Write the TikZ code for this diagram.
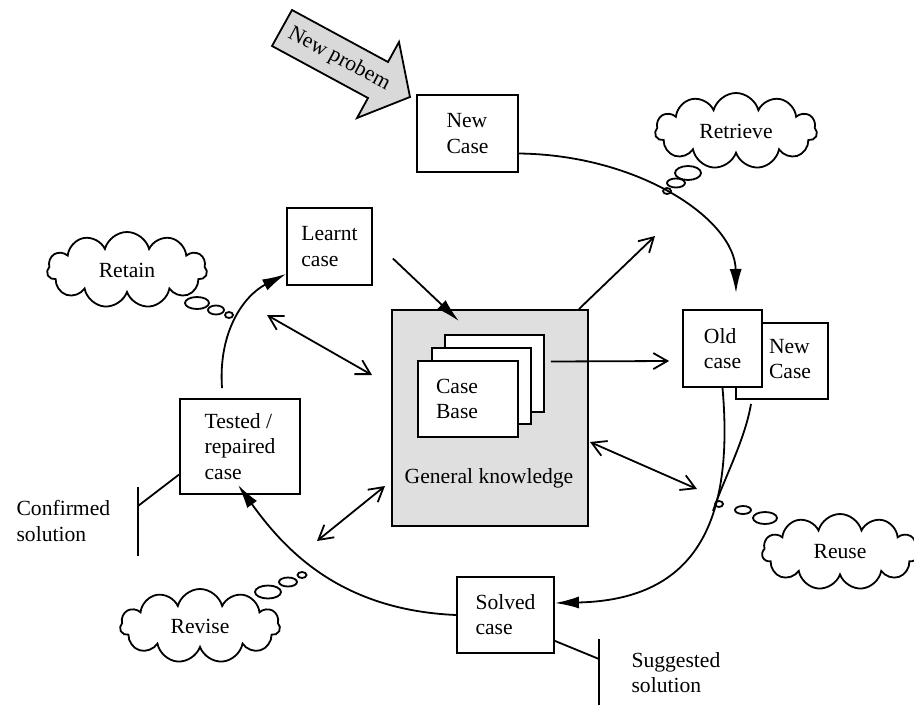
\documentclass[tikz,border=0pt]{standalone}
\usepackage{fontspec}
\setmainfont{Liberation Serif}
\usetikzlibrary{arrows.meta,shapes.symbols}
\tikzset{
  box/.style={draw, fill=white, align=left, inner sep=2pt},
  thought/.style={draw, fill=white, cloud, cloud puffs=11, cloud ignores aspect},
  cyc/.style={-{Latex[length=12pt,width=6pt]}},
  kn/.style={-{Straight Barb[length=7pt,width=8pt]}},
  kn2/.style={{Straight Barb[length=7pt,width=8pt]}-{Straight Barb[length=7pt,width=8pt]}}
}
\begin{document}
\begin{tikzpicture}[x=0.5pt,y=-0.5pt,line width=0.9pt,font=\fontsize{10.8}{12.6}\selectfont]
\useasboundingbox (0,0) rectangle (914,706);
% new problem arrow
\draw [fill=gray!30] (292,10) -- (388,62) -- (399,42) -- (410,97) -- (357,118) -- (368,98) -- (272,46) -- cycle;
\node [rotate=-28] (np) at (339,59) {New probem};
% general knowledge and case base
\node [draw, fill=gray!25, minimum width=98pt, minimum height=108pt] (gk) at (490,418) {};
\node (gkl) at (489,478) {General knowledge};
\node [box, minimum width=49.5pt, minimum height=38.5pt] (cb3) at (494.5,373.5) {};
\node [box, minimum width=49.5pt, minimum height=38pt] (cb2) at (481.5,386) {};
\node [box, text width=32pt, minimum width=50pt, minimum height=38pt] (cb1) at (468,399) {Case\\Base};
% cases
\node [box, minimum width=50.5pt, minimum height=38.5pt] (newcase) at (467.5,133.5) {New\\Case};
\node [box, minimum width=42.5pt, minimum height=38.5pt] (learnt) at (329.5,246.5) {Learnt\\case};
\node [box, minimum width=46pt, minimum height=38pt] (newcase2) at (782,361) {};
\node [align=left] (nc2t) at (790,359) {New\\Case};
\node [box, minimum width=39.5pt, minimum height=38.5pt] (oldcase) at (722.5,348.5) {Old\\case};
\node [box, minimum width=48.5pt, minimum height=38pt] (solved) at (505.5,615) {Solved\\case};
\node [box, minimum width=60pt, minimum height=47.5pt] (tested) at (240,446.5) {Tested /\\repaired\\case};
% clouds
\node [thought, minimum width=81pt, minimum height=38pt] (retrieve) at (736,131) {Retrieve};
\node [thought, minimum width=80pt, minimum height=38pt] (retain) at (127,270) {Retain};
\node [thought, minimum width=78pt, minimum height=38pt] (reuse) at (840,552) {Reuse};
\node [thought, minimum width=80pt, minimum height=37pt] (revise) at (200,626) {Revise};
\foreach \x/\y/\a/\b in {688/173/13/7, 676/183/9/4.5, 667/191/4/3,
                         197/303/12/6, 216/310/8/4.5, 229/315/4/3,
                         765/518/12/6, 743/510/8/4, 719/504/4/3,
                         268/592/13/6.5, 288/582/9/4.5, 302/575/4.5/3}
  {\draw [fill=white] (\x,\y) ellipse [x radius=\a, y radius=\b];}
% free ends
\coordinate (retrend) at (736,293);
\coordinate (merge) at (713,511);
\coordinate (kntr) at (655,236);
\coordinate (r1) at (267,315); \coordinate (r2) at (372,375);
\coordinate (g1) at (590,442); \coordinate (g2) at (697,489);
\coordinate (b1) at (385,486); \coordinate (b2) at (317,541);
\coordinate (cf1) at (138,487); \coordinate (cf2) at (138,556); \coordinate (cfm) at (138,506);
\coordinate (sg1) at (599,639); \coordinate (sg2) at (599,705); \coordinate (sgm) at (599,659);
% cycle
\draw [cyc] ([yshift=-10pt]newcase.east) .. controls (640,155) and (735,220) .. (retrend);
\draw [cyc] (oldcase.south) .. controls (735,530) and (690,600) .. ([yshift=6pt]solved.east);
\draw ([xshift=-15.5pt,yshift=-2pt]newcase2.south) .. controls (745,440) and (723,481) .. (merge);
\draw [cyc] (solved.west) .. controls (340,610) and (285,550) .. ([xshift=-1pt,yshift=5pt]tested.south);
\draw [cyc] ([xshift=-9pt,yshift=5pt]tested.north) .. controls (218,330) and (245,295) .. ([yshift=6pt]learnt.south west);
% knowledge
\draw [cyc] ([xshift=10pt,yshift=-6pt]learnt.east) -- ([xshift=-15.5pt,yshift=-6pt]gk.north);
\draw [kn] ([xshift=-5pt]gk.north east) -- (kntr);
\draw [kn] ([xshift=3pt,yshift=6pt]cb3.east) -- ([xshift=-6.5pt,yshift=-6.25pt]oldcase.west);
\draw [kn2] (r1) -- (r2);
\draw [kn2] (g1) -- (g2);
\draw [kn2] (b1) -- (b2);
% solutions
\draw ([yshift=-14pt]tested.west) -- (cfm);
\draw (cf1) -- (cf2);
\node [align=left, anchor=west] (conf) at (9,521) {Confirmed\\solution};
\draw ([yshift=6.5pt]solved.south east) -- (sgm);
\draw (sg1) -- (sg2);
\node [align=left, anchor=west] (sugg) at (624,673) {Suggested\\solution};
\end{tikzpicture}
\end{document}
